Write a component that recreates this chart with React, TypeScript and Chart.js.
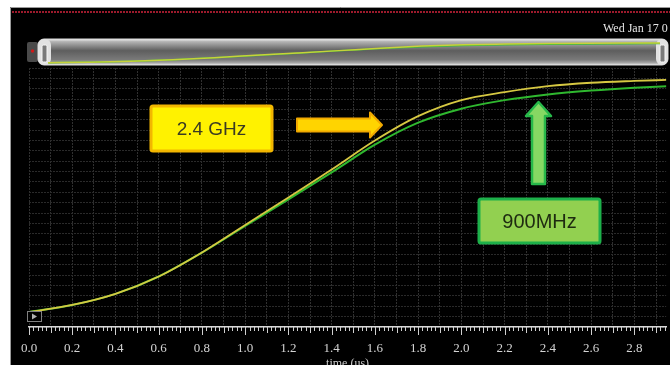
import React, { useEffect, useRef } from "react";
import { Chart, registerables } from "chart.js";
Chart.register(...registerables);

// ---- data ----
const timeUs = [0, 0.2, 0.4, 0.6, 0.8, 1.0, 1.2, 1.4, 1.6, 1.8, 2.0, 2.2, 2.4, 2.6, 2.8, 2.95];
const wave24GHz = [0.058, 0.085, 0.128, 0.195, 0.288, 0.394, 0.500, 0.608, 0.720, 0.814, 0.876, 0.907, 0.930, 0.943, 0.950, 0.954];
const wave900MHz = [0.058, 0.085, 0.128, 0.195, 0.287, 0.390, 0.493, 0.597, 0.704, 0.789, 0.843, 0.876, 0.898, 0.913, 0.924, 0.930];
const seriesLabels = ["2.4 GHz", "900MHz"];
const xAxisTitle = "time (us)";
const dateText = "Wed Jan 17 0";
const xMin = 0;
const xMax = 2.947;
const xGridStep = 0.1;
const xLabelStep = 0.2;
const rulerStep = 0.02;
const yGridStep = 0.04;

const toPoints = (vals: number[]) => timeUs.map((t, i) => ({ x: t, y: vals[i] }));

const YELLOW = "#d6c842";
const GREEN = "#2fb82f";

function rr(ctx: CanvasRenderingContext2D, x: number, y: number, w: number, h: number, r: number) {
  ctx.beginPath();
  ctx.roundRect(x, y, w, h, r);
}

const chromePlugin = {
  id: "chrome",
  beforeDraw(chart: any) {
    const ctx: CanvasRenderingContext2D = chart.ctx;
    const W = chart.width, H = chart.height;
    ctx.save();
    ctx.fillStyle = "#ffffff";
    ctx.fillRect(0, 0, W, H);
    ctx.fillStyle = "#000000";
    ctx.fillRect(10, 7, W - 10, H - 7);
    ctx.strokeStyle = "#9a9a9a";
    ctx.lineWidth = 1;
    ctx.beginPath();
    ctx.moveTo(10.5, H);
    ctx.lineTo(10.5, 7.5);
    ctx.lineTo(W, 7.5);
    ctx.stroke();
    // red dotted line
    ctx.strokeStyle = "#9c1a2c";
    ctx.lineWidth = 2;
    ctx.setLineDash([2, 1]);
    ctx.beginPath();
    ctx.moveTo(12, 12);
    ctx.lineTo(W, 12);
    ctx.stroke();
    ctx.setLineDash([]);
    // date text
    ctx.fillStyle = "#e6e6e6";
    ctx.font = '12px "Liberation Serif", serif';
    ctx.textBaseline = "alphabetic";
    ctx.textAlign = "left";
    ctx.fillText(dateText, 603, 32);
    // scrollbar left cap
    ctx.fillStyle = "#4a4a4a";
    rr(ctx, 27, 42, 11, 20, 2);
    ctx.fill();
    ctx.fillStyle = "#d01818";
    ctx.beginPath();
    ctx.arc(32.5, 51, 1.7, 0, Math.PI * 2);
    ctx.fill();
    // scrollbar body
    const g = ctx.createLinearGradient(0, 39, 0, 65);
    g.addColorStop(0, "#f0f0f0");
    g.addColorStop(0.1, "#b4b4b4");
    g.addColorStop(0.45, "#5e5e5e");
    g.addColorStop(0.8, "#7a7a7a");
    g.addColorStop(0.92, "#a8a8a8");
    g.addColorStop(1, "#e8e8e8");
    ctx.fillStyle = g;
    rr(ctx, 38, 39, 630, 26, 6);
    ctx.fill();
    ctx.strokeStyle = "#d8d8d8";
    ctx.lineWidth = 1;
    ctx.stroke();
    // handles
    ctx.fillStyle = "#e2e2e2";
    rr(ctx, 38, 39, 13, 26, 6);
    ctx.fill();
    rr(ctx, 656, 39, 12, 26, 6);
    ctx.fill();
    ctx.fillStyle = "#7a7a7a";
    ctx.strokeStyle = "#f6f6f6";
    rr(ctx, 42, 45, 5, 17, 1.5);
    ctx.fill();
    ctx.stroke();
    rr(ctx, 660, 45, 5, 17, 1.5);
    ctx.fill();
    ctx.stroke();
    ctx.restore();
  },
  afterDraw(chart: any) {
    const ctx: CanvasRenderingContext2D = chart.ctx;
    const xs = chart.scales.x;
    const bottom = chart.chartArea.bottom;
    ctx.save();
    // ruler ticks
    ctx.strokeStyle = "#d0d0d0";
    ctx.lineWidth = 1;
    const n = Math.floor(xMax / rulerStep + 1e-6);
    for (let k = 0; k <= n; k++) {
      const v = k * rulerStep;
      const px = Math.round(xs.getPixelForValue(v)) + 0.5;
      const len = k % 10 === 0 ? 8 : k % 5 === 0 ? 6 : 4;
      ctx.beginPath();
      ctx.moveTo(px, bottom);
      ctx.lineTo(px, bottom + len);
      ctx.stroke();
    }
    // play box
    ctx.fillStyle = "#000";
    ctx.fillRect(27, 311, 15, 10);
    ctx.strokeStyle = "#808080";
    ctx.strokeRect(27.5, 311.5, 14, 10);
    ctx.fillStyle = "#b0b0b0";
    ctx.beginPath();
    ctx.moveTo(32, 313.5);
    ctx.lineTo(37, 316.5);
    ctx.lineTo(32, 319.5);
    ctx.closePath();
    ctx.fill();

    // yellow label box
    ctx.lineJoin = "round";
    ctx.fillStyle = "#fff200";
    ctx.strokeStyle = "#f2b600";
    ctx.lineWidth = 3;
    rr(ctx, 151, 106, 121, 45, 2);
    ctx.fill();
    ctx.stroke();
    ctx.fillStyle = "#3a3a22";
    ctx.font = '19px "Liberation Sans", sans-serif';
    ctx.textAlign = "center";
    ctx.textBaseline = "middle";
    ctx.fillText(seriesLabels[0], 211.5, 129.5);

    // yellow arrow (right)
    ctx.fillStyle = "#ffd400";
    ctx.strokeStyle = "#f0a800";
    ctx.lineWidth = 2;
    ctx.beginPath();
    ctx.moveTo(297, 118.5);
    ctx.lineTo(370, 118.5);
    ctx.lineTo(370, 112.5);
    ctx.lineTo(382, 125);
    ctx.lineTo(370, 137.5);
    ctx.lineTo(370, 131.5);
    ctx.lineTo(297, 131.5);
    ctx.closePath();
    ctx.fill();
    ctx.stroke();

    // green arrow (up)
    ctx.fillStyle = "#86d863";
    ctx.strokeStyle = "#27b84a";
    ctx.lineWidth = 2.5;
    ctx.beginPath();
    ctx.moveTo(538.5, 102);
    ctx.lineTo(551, 116);
    ctx.lineTo(545, 116);
    ctx.lineTo(545, 184);
    ctx.lineTo(532, 184);
    ctx.lineTo(532, 116);
    ctx.lineTo(526, 116);
    ctx.closePath();
    ctx.fill();
    ctx.stroke();

    // green label box
    ctx.fillStyle = "#92d050";
    ctx.strokeStyle = "#1db04a";
    ctx.lineWidth = 3;
    rr(ctx, 479, 199, 121, 44, 2);
    ctx.fill();
    ctx.stroke();
    ctx.fillStyle = "#1e2a10";
    ctx.font = '20px "Liberation Sans", sans-serif';
    ctx.fillText(seriesLabels[1], 539.5, 222);
    ctx.restore();
  },
};

export default function App() {
  const mainRef = useRef<HTMLCanvasElement>(null);
  const miniRef = useRef<HTMLCanvasElement>(null);

  useEffect(() => {
    document.body.style.margin = "0";
    const serif = '"Liberation Serif", serif';
    const main = new Chart(mainRef.current as HTMLCanvasElement, {
      type: "line",
      data: {
        datasets: [
          {
            label: seriesLabels[0],
            data: toPoints(wave24GHz),
            borderColor: YELLOW,
            borderWidth: 1.8,
            pointRadius: 0,
            cubicInterpolationMode: "monotone",
          },
          {
            label: seriesLabels[1],
            data: toPoints(wave900MHz),
            borderColor: GREEN,
            borderWidth: 2,
            pointRadius: 0,
            cubicInterpolationMode: "monotone",
          },
        ],
      },
      options: {
        responsive: false,
        maintainAspectRatio: false,
        animation: false,
        events: [],
        layout: { padding: { left: 29, right: 0, top: 68, bottom: 0 } },
        plugins: { legend: { display: false }, tooltip: { enabled: false } },
        scales: {
          x: {
            type: "linear",
            min: xMin,
            max: xMax,
            afterFit: (s: any) => {
              s.height = 38;
            },
            grid: { color: "#303030", lineWidth: 1, drawTicks: false },
            border: { display: true, color: "#d8d8d8", width: 1.5, dash: [2, 1] },
            ticks: {
              stepSize: xGridStep,
              includeBounds: false,
              autoSkip: false,
              maxRotation: 0,
              minRotation: 0,
              padding: 14,
              color: "#d4d4d4",
              font: { family: serif, size: 13 },
              callback: (v: any) => {
                const k = Math.round(Number(v) / xGridStep);
                const per = Math.round(xLabelStep / xGridStep);
                return k % per === 0 ? (k * xGridStep).toFixed(1) : "";
              },
            },
            title: {
              display: true,
              text: xAxisTitle,
              color: "#cfcfcf",
              font: { family: serif, size: 12 },
              padding: { top: 0, bottom: -6 },
            },
          },
          y: {
            type: "linear",
            min: 0,
            max: 1,
            afterFit: (s: any) => {
              s.width = 0;
            },
            grid: { color: "#2a2a2a", lineWidth: 1, drawTicks: false },
            border: { display: false, dash: [2, 1] },
            ticks: { display: false, stepSize: yGridStep },
          },
        },
      },
      plugins: [chromePlugin],
    } as any);

    const mini = new Chart(miniRef.current as HTMLCanvasElement, {
      type: "line",
      data: {
        datasets: [
          {
            data: toPoints(wave24GHz),
            borderColor: "#c8d23a",
            borderWidth: 1.5,
            pointRadius: 0,
            cubicInterpolationMode: "monotone",
          },
          {
            data: toPoints(wave900MHz),
            borderColor: "#3cb83c",
            borderWidth: 1.5,
            pointRadius: 0,
            cubicInterpolationMode: "monotone",
          },
        ],
      },
      options: {
        responsive: false,
        maintainAspectRatio: false,
        animation: false,
        events: [],
        layout: { padding: 0 },
        plugins: { legend: { display: false }, tooltip: { enabled: false } },
        scales: {
          x: { type: "linear", min: xMin, max: xMax, display: false },
          y: { type: "linear", min: 0, max: 1, display: false },
        },
      },
    } as any);

    return () => {
      main.destroy();
      mini.destroy();
    };
  }, []);

  return (
    <div style={{ position: "relative", width: 670, height: 365, overflow: "hidden" }}>
      <canvas ref={mainRef} width={670} height={365} style={{ position: "absolute", left: 0, top: 0 }} />
      <canvas ref={miniRef} width={612} height={22} style={{ position: "absolute", left: 48, top: 42 }} />
    </div>
  );
}
